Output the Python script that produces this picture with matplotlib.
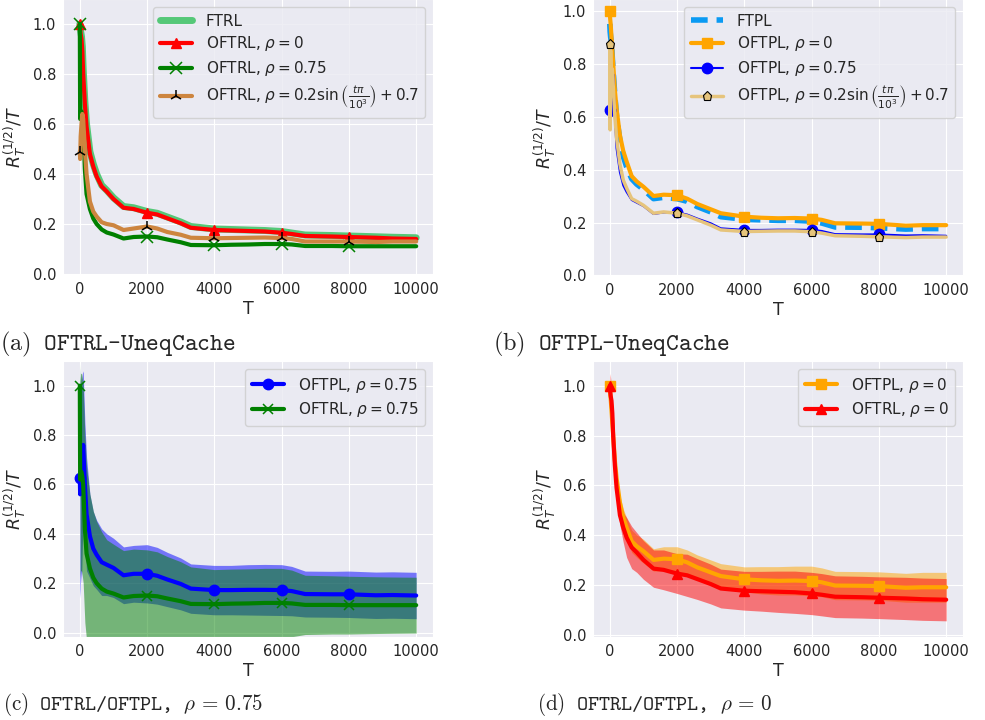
import matplotlib
matplotlib.use("Agg")
import matplotlib.pyplot as plt
import seaborn as sns
import numpy as np

sns.set_style("darkgrid")
plt.rcParams['font.family'] = ['DejaVu Sans']

# ---------------- data ----------------
T = [0, 10, 25, 50, 75, 100, 150, 200, 300, 400, 500, 650, 800, 1000, 1300, 1600,
     2000, 2300, 2600, 3000, 3300, 4000, 4500, 5000, 5500, 6000, 6300, 6700, 7500,
     8000, 8800, 9300, 10000]
marker_T = [0, 2000, 4000, 6000, 8000]

ftrl = [1.0, 0.99, 0.97, 0.95, 0.91, 0.82, 0.69, 0.60, 0.49, 0.44, 0.40, 0.355, 0.335, 0.305,
        0.27, 0.265, 0.25, 0.243, 0.228, 0.208, 0.19, 0.18, 0.178, 0.176, 0.174, 0.17, 0.164,
        0.156, 0.154, 0.152, 0.149, 0.147, 0.145]
oftrl_0 = [1.0, 0.98, 0.96, 0.94, 0.89, 0.80, 0.68, 0.59, 0.48, 0.43, 0.39, 0.35, 0.33, 0.30,
           0.265, 0.26, 0.245, 0.238, 0.223, 0.203, 0.185, 0.176, 0.174, 0.172, 0.17, 0.165,
           0.16, 0.152, 0.15, 0.148, 0.145, 0.142, 0.14]
oftrl_75 = [1.0, 0.62, 0.65, 0.65, 0.63, 0.6, 0.42, 0.32, 0.26, 0.222, 0.2, 0.178, 0.166, 0.158,
            0.142, 0.148, 0.15, 0.147, 0.138, 0.127, 0.116, 0.115, 0.117, 0.118, 0.12, 0.12,
            0.118, 0.112, 0.112, 0.111, 0.111, 0.111, 0.111]
oftrl_sin = [0.49, 0.46, 0.55, 0.60, 0.64, 0.62, 0.50, 0.40, 0.29, 0.25, 0.23, 0.207, 0.2, 0.195,
             0.176, 0.182, 0.19, 0.182, 0.168, 0.157, 0.145, 0.143, 0.144, 0.145, 0.146, 0.144,
             0.14, 0.13, 0.13, 0.13, 0.128, 0.13, 0.13]

ftpl = [0.95, 0.92, 0.9, 0.88, 0.82, 0.77, 0.68, 0.6, 0.51, 0.45, 0.41, 0.365, 0.345, 0.325,
        0.29, 0.295, 0.29, 0.28, 0.26, 0.24, 0.222, 0.212, 0.21, 0.208, 0.208, 0.205, 0.198,
        0.183, 0.182, 0.18, 0.175, 0.177, 0.177]
oftpl_0 = [1.0, 0.97, 0.95, 0.9, 0.85, 0.8, 0.7, 0.63, 0.53, 0.47, 0.43, 0.375, 0.355, 0.335,
           0.3, 0.305, 0.303, 0.29, 0.27, 0.25, 0.235, 0.222, 0.218, 0.216, 0.217, 0.215, 0.21,
           0.197, 0.196, 0.195, 0.188, 0.19, 0.19]
oftpl_75 = [0.625, 0.56, 0.65, 0.6, 0.7, 0.76, 0.6, 0.48, 0.39, 0.34, 0.315, 0.285, 0.275, 0.262,
            0.232, 0.238, 0.238, 0.23, 0.215, 0.197, 0.178, 0.172, 0.172, 0.173, 0.173, 0.172,
            0.168, 0.156, 0.155, 0.155, 0.151, 0.152, 0.15]
oftpl_sin = [0.875, 0.55, 0.85, 0.7, 0.78, 0.72, 0.6, 0.52, 0.42, 0.36, 0.33, 0.29, 0.28, 0.265,
             0.235, 0.24, 0.235, 0.225, 0.21, 0.19, 0.172, 0.166, 0.167, 0.168, 0.168, 0.165,
             0.16, 0.15, 0.148, 0.146, 0.143, 0.145, 0.145]

std_oftpl_75 = [0.45, 0.42, 0.4, 0.4, 0.35, 0.3, 0.25, 0.23, 0.17, 0.15, 0.14, 0.135, 0.125, 0.12,
                0.115, 0.115, 0.118, 0.115, 0.11, 0.105, 0.1, 0.1, 0.1, 0.102, 0.103, 0.103,
                0.1, 0.093, 0.093, 0.094, 0.094, 0.094, 0.094]
std_oftrl_75 = [0.09, 0.4, 0.4, 0.4, 0.4, 0.4, 0.38, 0.35, 0.3, 0.27, 0.25, 0.23, 0.21, 0.2,
                0.19, 0.19, 0.185, 0.18, 0.17, 0.16, 0.15, 0.14, 0.14, 0.14, 0.14, 0.14, 0.135,
                0.12, 0.118, 0.117, 0.115, 0.114, 0.113]
std_oftpl_0 = [0.02, 0.03, 0.03, 0.03, 0.03, 0.03, 0.03, 0.03, 0.03, 0.035, 0.04, 0.045, 0.045,
               0.048, 0.045, 0.048, 0.05, 0.05, 0.05, 0.05, 0.05, 0.05, 0.055, 0.057, 0.058,
               0.06, 0.058, 0.057, 0.057, 0.057, 0.058, 0.06, 0.06]
std_oftrl_0 = [0.0, 0.07, 0.07, 0.05, 0.04, 0.04, 0.04, 0.04, 0.04, 0.06, 0.08, 0.085, 0.08, 0.078,
               0.075, 0.08, 0.08, 0.085, 0.082, 0.08, 0.078, 0.078, 0.08, 0.083, 0.085, 0.085,
               0.085, 0.084, 0.084, 0.084, 0.085, 0.085, 0.085]

x_ticks = [0, 2000, 4000, 6000, 8000, 10000]
y_ticks = [0.0, 0.2, 0.4, 0.6, 0.8, 1.0]

T_arr = np.array(T)
mk = [T.index(t) for t in marker_T]

W, H = 985, 720
fig = plt.figure(figsize=(W / 100, H / 100), dpi=100)


def make_ax(left, top, right, bottom):
    return fig.add_axes([left / W, 1 - bottom / H, (right - left) / W, (bottom - top) / H])


TICK_FS = 10.5
LEG_FS = 11.0
LAB_FS = 12.5


def style(ax, ylim):
    ax.set_xlim(-500, 10500)
    ax.set_ylim(*ylim)
    ax.set_xticks(x_ticks)
    ax.set_yticks(y_ticks)
    ax.tick_params(labelsize=TICK_FS, pad=5, length=0)
    ax.set_xlabel("T", fontsize=LAB_FS, labelpad=2)
    ax.set_ylabel(r"$R_T^{(1/2)}/T$", fontsize=LAB_FS, labelpad=3)


def legend(ax):
    ax.legend(loc='upper right', fontsize=LEG_FS, labelspacing=0.38, borderpad=0.45,
              handlelength=2.1, handletextpad=0.9)


rho_sin = r"$\rho = 0.2\sin\left(\frac{t\pi}{10^3}\right)+0.7$"

# (a)
ax = make_ax(63, -1, 433, 275)
ax.plot(T_arr, ftrl, color='#55c878', lw=5, label="FTRL")
ax.plot(T_arr, oftrl_0, color='red', lw=3, marker='^', ms=7.5, markevery=mk,
        label=r"OFTRL, $\rho = 0$")
ax.plot(T_arr, oftrl_75, color='green', lw=3, marker='x', ms=8, mew=1.1, markevery=mk,
        label=r"OFTRL, $\rho = 0.75$")
ax.plot(T_arr, oftrl_sin, color='peru', lw=3, marker='2', ms=9, mew=1.1, mec='black',
        markevery=mk, label="OFTRL, " + rho_sin)
style(ax, (-0.004, 1.1))
legend(ax)

# (b)
ax = make_ax(593, -1, 963, 276)
ax.plot(T_arr, ftpl, color='#0a9af3', lw=4, ls=(0, (3, 1.6)), label="FTPL")
ax.plot(T_arr, oftpl_0, color='orange', lw=3, marker='s', ms=7, markevery=mk,
        label=r"OFTPL, $\rho = 0$")
ax.plot(T_arr, oftpl_75, color='blue', lw=1.5, marker='o', ms=7.5, markevery=mk,
        label=r"OFTPL, $\rho = 0.75$")
ax.plot(T_arr, oftpl_sin, color='#e6c47c', lw=2.5, marker='p', ms=6.5, mec='black', mew=0.8,
        markevery=mk, label="OFTPL, " + rho_sin)
style(ax, (-0.002, 1.044))
legend(ax)

# (c)
ax = make_ax(63, 361, 433, 637)
m1, s1 = np.array(oftpl_75), np.array(std_oftpl_75)
m2, s2 = np.array(oftrl_75), np.array(std_oftrl_75)
ax.fill_between(T_arr, m1 - s1, m1 + s1, color='blue', alpha=0.5, lw=0)
ax.fill_between(T_arr, m2 - s2, m2 + s2, color='green', alpha=0.5, lw=0)
ax.plot(T_arr, m1, color='blue', lw=3, marker='o', ms=7.5, markevery=mk,
        label=r"OFTPL, $\rho = 0.75$")
ax.plot(T_arr, m2, color='green', lw=3, marker='x', ms=7, mew=1.1, markevery=mk,
        label=r"OFTRL, $\rho = 0.75$")
style(ax, (-0.018, 1.1))
legend(ax)

# (d)
ax = make_ax(593, 361, 963, 637)
m3, s3 = np.array(oftpl_0), np.array(std_oftpl_0)
m4, s4 = np.array(oftrl_0), np.array(std_oftrl_0)
ax.fill_between(T_arr, m3 - s3, m3 + s3, color='orange', alpha=0.5, lw=0)
ax.fill_between(T_arr, m4 - s4, m4 + s4, color='red', alpha=0.5, lw=0)
ax.plot(T_arr, m3, color='orange', lw=3, marker='s', ms=7, markevery=mk,
        label=r"OFTPL, $\rho = 0$")
ax.plot(T_arr, m4, color='red', lw=3, marker='^', ms=7.5, markevery=mk,
        label=r"OFTRL, $\rho = 0$")
style(ax, (-0.01, 1.1))
legend(ax)

# captions
cap_kw = dict(family='cmtt10', math_fontfamily='cm', va='center', ha='left')
fig.text(0 / W, 1 - 344 / H, r"$\mathrm{(a)}$ OFTRL-UneqCache", fontsize=17.5, **cap_kw)
fig.text(493 / W, 1 - 344 / H, r"$\mathrm{(b)}$ OFTPL-UneqCache", fontsize=17.5, **cap_kw)
fig.text(3 / W, 1 - 704 / H, r"$\mathrm{(c)}$ OFTRL/OFTPL, $\rho\,=\,0.75$", fontsize=15.2, **cap_kw)
fig.text(537 / W, 1 - 704 / H, r"$\mathrm{(d)}$ OFTRL/OFTPL, $\rho\,=\,0$", fontsize=15.2, **cap_kw)

fig.savefig("out.png", dpi=100)
